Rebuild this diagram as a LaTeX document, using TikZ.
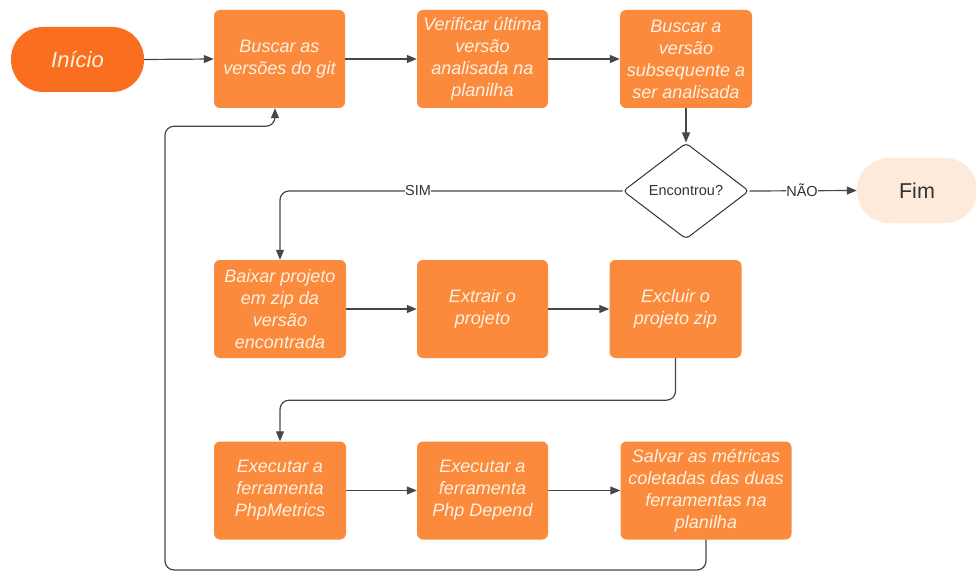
\documentclass[tikz,border=0pt]{standalone}
\usepackage{fontspec}
\setmainfont{Liberation Sans}
\usetikzlibrary{arrows.meta,shapes.geometric}
\definecolor{boxor}{HTML}{FB8A3C}
\definecolor{startor}{HTML}{F96F1F}
\definecolor{boxtext}{HTML}{FFF1E2}
\definecolor{endfill}{HTML}{FDEADB}
\definecolor{darktext}{HTML}{333333}
\definecolor{linec}{HTML}{474747}
\begin{document}
\begin{tikzpicture}[x=1pt,y=-1pt,
  proc/.style={fill=boxor, rounded corners=6pt, minimum height=98pt, text=boxtext,
    font=\fontsize{18}{22}\selectfont\itshape, align=center, inner sep=2pt},
  term/.style={rounded corners=32pt, minimum height=65pt, inner sep=2pt},
  decide/.style={diamond, draw=darktext, line width=1pt, fill=white, rounded corners=4pt,
    minimum width=126pt, minimum height=96pt, inner sep=0pt, aspect=1.31,
    text=darktext, font=\fontsize{14.5}{17}\selectfont},
  conn/.style={draw=linec, line width=1.2pt, -{Triangle[length=10pt,width=8pt]}, rounded corners=9pt},
  lbl/.style={fill=white, inner sep=0.6pt, text=darktext, font=\fontsize{14.5}{17}\selectfont}
]
\useasboundingbox (0,0) rectangle (976,572);
\fill[white] (0,0) rectangle (976,572);

% top row
\node[term, fill=startor, minimum width=133pt, text=boxtext,
  font=\fontsize{22}{26}\selectfont\itshape] (inicio) at (77.5,59.5) {Início};
\node[proc, minimum width=131pt] (b1) at (279.5,59) {Buscar as\\versões do git};
\node[proc, minimum width=131pt] (b2) at (482.5,59) {Verificar última\\versão\\analisada na\\planilha};
\node[proc, minimum width=132pt] (b3) at (686,59) {Buscar a\\versão\\subsequente a\\ser analisada};

% decision
\node[decide] (dia) at (686,191) {Encontrou?};
\node[term, fill=endfill, minimum width=120pt, text=darktext,
  font=\fontsize{21.5}{25}\selectfont] (fim) at (917,190.5) {Fim};

% row 2
\node[proc, minimum width=132pt] (b4) at (280,309) {Baixar projeto\\em zip da\\versão\\encontrada};
\node[proc, minimum width=131pt] (b5) at (482.5,309) {Extrair o\\projeto};
\node[proc, minimum width=132pt] (b6) at (675.5,309) {Excluir o\\projeto zip};

% row 3
\node[proc, minimum width=132pt] (b7) at (280,490.5) {Executar a\\ferramenta\\PhpMetrics};
\node[proc, minimum width=131pt] (b8) at (482.5,490.5) {Executar a\\ferramenta\\Php Depend};
\node[proc, minimum width=171pt] (b9) at (706,490.5) {Salvar as métricas\\coletadas das duas\\ferramentas na\\planilha};

% connectors
\draw[conn] (inicio.east) -- (b1.west);
\draw[conn] (b1.east) -- (b2.west);
\draw[conn] (b2.east) -- (b3.west);
\draw[conn] (b3.south) -- (dia.north);
\draw[conn] (dia.west) -| (b4.north);
\draw[conn] (dia.east) -- (fim.west);
\draw[conn] (b4.east) -- (b5.west);
\draw[conn] (b5.east) -- (b6.west);
\draw[conn] (b6.south) -- ([yshift=-42pt]b6.south) -| (b7.north);
\draw[conn] (b7.east) -- (b8.west);
\draw[conn] (b8.east) -- (b9.west);
\coordinate (loopL) at (165,570);
\draw[conn] (b9.south) |- (loopL) |- ([xshift=-4.5pt,yshift=-18pt]b1.south) -- ([xshift=-4.5pt]b1.south);

% labels
\node[lbl] (sim) at (418,190.5) {SIM};
\node[lbl] (nao) at (802,190.5) {NÃO};
\end{tikzpicture}
\end{document}
